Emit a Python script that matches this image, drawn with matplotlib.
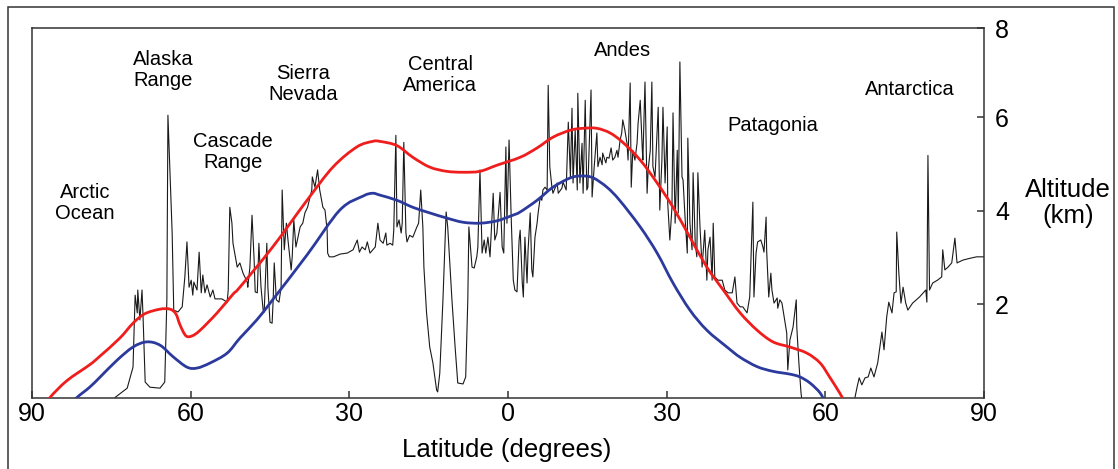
import numpy as np
import matplotlib
matplotlib.use("Agg")
import matplotlib.pyplot as plt
from matplotlib.patches import Rectangle, PathPatch
from matplotlib.path import Path

plt.rcParams["font.family"] = ["Liberation Sans", "DejaVu Sans"]

# ── Data ─────────────────────────────────────────────────────────────────────
# latitude runs north (negative, left) to south (positive, right); altitude in km
terrain_lat = [
    -74.3, -72.0, -70.9, -70.5, -70.1, -70.0, -69.6, -69.2, -69.0, -68.6, -67.7,
    -65.8, -64.9, -64.5, -64.3, -63.5, -63.2, -62.4, -61.6, -61.1, -60.7, -60.3,
    -59.9, -59.6, -59.4, -58.8, -58.4, -58.0, -57.7, -57.3, -56.9, -56.3, -55.8,
    -55.4, -54.1, -53.1, -52.9, -52.6, -52.2, -52.0, -51.2, -50.7, -50.1, -49.3,
    -49.2, -48.8, -48.4, -48.0, -47.8, -47.4, -47.1, -46.7, -46.3, -46.1, -45.6,
    -45.4, -45.0, -44.6, -44.4, -44.2, -43.8, -43.3, -42.9, -42.7, -42.3, -41.9,
    -41.6, -41.0, -40.8, -40.5, -40.1, -39.3, -38.8, -38.4, -37.9, -37.1, -37.0,
    -36.5, -36.0, -35.6, -35.0, -34.6, -34.2, -34.1, -33.8, -33.0, -31.7, -30.4,
    -29.3, -28.5, -28.1, -27.6, -27.0, -26.6, -26.1, -25.1, -24.6, -24.2, -23.6,
    -23.1, -22.9, -22.3, -21.8, -21.6, -21.2, -21.0, -20.6, -20.2, -20.0, -19.7,
    -19.3, -19.1, -18.6, -18.0, -17.3, -16.9, -16.5, -16.1, -15.9, -15.4, -14.8,
    -14.2, -13.5, -13.3, -12.9, -12.3, -11.7, -11.4, -10.6, -10.0, -9.5, -8.5,
    -8.0, -7.6, -7.4, -6.8, -6.4, -5.9, -5.7, -5.3, -4.9, -4.5, -4.2, -3.8,
    -3.4, -2.8, -2.5, -2.1, -1.5, -1.1, -0.8, -0.4, -0.2, 0.2, 0.6, 1.0, 1.3,
    1.7, 2.1, 2.3, 2.7, 2.9, 3.2, 3.6, 3.8, 4.2, 4.5, 4.7, 5.1, 5.5, 5.7, 6.1,
    6.4, 6.6, 7.0, 7.4, 7.6, 7.9, 8.3, 8.5, 9.3, 9.5, 10.2, 10.4, 11.0, 11.4,
    11.8, 12.1, 12.3, 12.7, 13.1, 13.2, 13.6, 14.0, 14.2, 14.6, 14.9, 15.1,
    15.7, 15.9, 16.3, 16.8, 17.0, 17.4, 17.8, 17.9, 18.5, 18.7, 19.1, 19.5,
    19.8, 20.2, 20.6, 20.8, 21.2, 21.5, 21.7, 22.1, 22.5, 22.7, 23.1, 23.3,
    23.6, 24.0, 24.4, 24.6, 25.0, 25.4, 25.5, 25.9, 26.3, 26.5, 26.9, 27.2,
    27.4, 27.8, 28.4, 28.7, 29.1, 29.3, 29.7, 30.1, 30.2, 30.6, 31.0, 31.2,
    31.6, 32.0, 32.2, 32.5, 32.9, 33.1, 33.5, 33.9, 34.0, 34.4, 34.8, 35.0,
    35.4, 35.7, 35.9, 36.3, 36.7, 37.2, 37.6, 37.8, 38.2, 38.6, 38.8, 39.1,
    39.7, 40.5, 41.0, 41.6, 42.4, 42.9, 43.3, 43.9, 44.4, 45.2, 45.7, 46.3,
    46.5, 46.9, 47.2, 47.8, 48.2, 48.4, 48.8, 48.9, 49.3, 49.7, 49.9, 50.3,
    50.9, 51.0, 51.4, 51.8, 52.3, 52.7, 52.9, 53.3, 53.9, 54.5, 54.6, 55.0,
    55.4, 55.8, np.nan,
    65.0, 65.6, 66.0, 66.4, 66.9, 67.5, 68.1, 68.6, 69.2, 69.9, 70.7, 71.1,
    71.6, 72.0, 72.6, 73.0, 73.4, 73.5, 73.9, 74.3, 74.7, 75.2, 75.6, 76.5,
    77.8, 79.0, 79.2, 79.4, 79.7, 80.3, 81.2, 82.0, 82.2, 82.6, 83.2, 83.9,
    84.5, 84.9, 86.0, 87.4, 88.6, 90.0,
]
terrain_alt = [
    0.00, 0.20, 0.65, 2.19, 1.81, 2.30, 1.66, 2.30, 1.72, 0.33, 0.22,
    0.20, 0.33, 2.09, 6.04, 3.52, 1.87, 1.83, 1.94, 2.58, 3.33, 2.36,
    2.51, 2.19, 2.47, 2.30, 3.11, 2.24, 2.62, 2.24, 2.41, 2.15, 2.30,
    2.11, 2.11, 2.04, 2.30, 4.07, 3.73, 3.30, 2.79, 2.88, 2.66, 2.47,
    2.36, 2.79, 3.90, 2.94, 2.26, 2.24, 3.30, 2.36, 1.87, 1.83, 3.30,
    2.36, 1.61, 1.59, 2.09, 2.88, 2.09, 2.04, 2.36, 4.44, 3.16, 3.73,
    3.37, 2.73, 3.01, 3.80, 3.22, 3.65, 3.73, 3.95, 4.07, 4.44, 4.72,
    4.50, 4.87, 4.44, 4.07, 4.01, 3.58, 3.09, 3.01, 3.01, 3.07, 3.09,
    3.16, 3.37, 3.11, 3.22, 3.16, 3.33, 3.09, 3.22, 3.73, 3.37, 3.30,
    3.52, 3.26, 3.30, 3.26, 3.58, 5.61, 3.65, 3.80, 3.52, 3.73, 5.46,
    3.52, 3.33, 3.47, 3.43, 3.63, 3.73, 4.44, 3.65, 2.79, 1.81, 1.08,
    0.74, 0.16, 0.12, 0.52, 2.09, 3.97, 3.65, 2.09, 1.08, 0.31, 0.29,
    0.44, 2.09, 3.65, 2.79, 2.77, 3.01, 3.22, 4.87, 3.09, 3.37, 3.09, 3.43,
    3.01, 4.37, 3.37, 3.52, 4.39, 3.22, 3.09, 5.36, 3.73, 5.51, 3.86, 2.51, 2.30,
    2.26, 3.37, 3.58, 2.45, 2.15, 3.43, 2.45, 3.16, 3.95, 2.73, 2.58, 3.43, 3.73, 3.95, 4.29,
    4.22, 4.44, 4.50, 4.44, 6.68, 4.94, 4.50, 4.37, 4.59, 4.37, 4.48, 4.61, 4.44, 5.89,
    4.72, 6.19, 4.59, 5.72, 4.44, 6.51, 4.59, 5.44, 4.37, 6.36, 4.44, 4.50,
    6.58, 4.29, 4.94, 5.66, 4.94, 5.14, 4.98, 5.23, 5.02, 5.14, 5.12, 5.34,
    5.08, 5.14, 5.29, 5.14, 5.51, 5.66, 5.94, 5.72, 5.44, 5.08, 6.73, 4.50,
    5.29, 5.08, 5.44, 5.87, 6.36, 5.29, 5.08, 6.75, 4.37, 4.87, 5.29, 6.75,
    4.94, 4.72, 6.21, 4.01, 5.08, 6.21, 4.59, 5.79, 4.16, 3.37, 4.07, 6.09,
    3.73, 5.29, 3.95, 7.18, 4.72, 4.65, 3.80, 3.09, 5.55, 3.73, 3.16, 4.81,
    3.30, 3.01, 4.81, 3.65, 2.79, 3.58, 2.51, 3.16, 3.43, 2.51, 3.73, 2.58,
    2.51, 2.51, 2.30, 2.24, 2.24, 2.58, 2.02, 1.94, 1.94, 1.81, 2.15, 4.18,
    2.15, 3.09, 3.33, 3.37, 3.22, 3.11, 3.86, 3.16, 2.15, 2.66, 2.30, 2.02,
    2.13, 1.91, 2.09, 2.02, 1.66, 1.38, 0.59, 1.23, 1.51, 2.09, 1.51, 0.74,
    0.10, -0.27, np.nan,
    -0.27, 0.00, 0.22, 0.42, 0.27, 0.42, 0.44, 0.63, 0.44, 0.74, 1.40, 1.02,
    1.72, 2.04, 1.81, 2.24, 2.26, 3.54, 2.66, 2.02, 2.36, 2.02, 1.87, 2.02,
    2.15, 2.30, 2.04, 5.18, 2.30, 2.45, 2.51, 2.58, 3.16, 2.73, 2.79, 2.88,
    3.41, 2.88, 2.94, 2.98, 3.01, 3.01,
]

red_lat = [-87.4, -86.6, -83.4, -79.1, -77.1, -73.4, -70.9, -68.7, -65.8, -63.9,
           -62.8, -62.0, -60.9, -59.7, -58.2, -55.0, -52.0, -50.7, -44.5, -38.0,
           -33.1, -28.6, -25.6, -24.2, -21.0, -18.0, -14.8, -11.6, -8.5, -5.3,
           -2.1, 2.3, 5.5, 8.5, 11.8, 14.2, 16.8, 19.3, 21.7, 25.0, 28.2, 31.2,
           34.4, 37.6, 40.7, 43.9, 47.1, 50.1, 53.3, 56.5, 59.0, 60.8, 62.7, 63.7]
red_alt = [-0.18, 0.00, 0.36, 0.70, 0.89, 1.27, 1.59, 1.79, 1.89, 1.89,
           1.79, 1.55, 1.32, 1.32, 1.44, 1.81, 2.21, 2.36, 3.22, 4.22,
           4.93, 5.36, 5.48, 5.48, 5.39, 5.14, 4.93, 4.84, 4.82, 4.84,
           4.97, 5.14, 5.34, 5.57, 5.72, 5.76, 5.76, 5.66, 5.46, 5.08, 4.59, 4.07,
           3.43, 2.79, 2.30, 1.81, 1.44, 1.19, 1.08, 0.95, 0.74, 0.44, 0.10, -0.10]

blue_lat = [-82.4, -81.5, -79.1, -77.1, -73.9, -70.9, -68.3, -65.8, -63.3, -60.7,
            -58.8, -56.3, -53.1, -50.7, -47.5, -44.5, -38.0, -31.8, -27.4, -25.6,
            -24.2, -21.0, -18.0, -14.8, -11.6, -8.5, -5.3, -2.1, 0.9, 2.3, 5.5,
            8.5, 11.8, 14.0, 16.1, 18.7, 21.1, 25.0, 28.2, 31.2, 34.4, 37.6, 41.4,
            43.9, 47.1, 50.1, 53.3, 55.2, 57.1, 59.0, 59.9]
blue_alt = [-0.14, 0.00, 0.22, 0.44, 0.80, 1.08, 1.19, 1.12, 0.87, 0.65,
            0.63, 0.74, 0.95, 1.27, 1.66, 2.09, 3.05, 4.01, 4.31, 4.37,
            4.33, 4.22, 4.07, 3.95, 3.84, 3.75, 3.73, 3.78, 3.90, 3.97, 4.22,
            4.50, 4.70, 4.74, 4.70, 4.50, 4.22, 3.65, 3.09, 2.45, 1.87, 1.44, 1.08,
            0.86, 0.66, 0.56, 0.50, 0.44, 0.31, 0.10, -0.10]

region_names = ["Arctic\nOcean", "Alaska\nRange", "Cascade\nRange", "Sierra\nNevada",
                "Central\nAmerica", "Andes", "Patagonia", "Antarctica"]
region_lat = [-80.0, -65.2, -52.0, -38.8, -12.8, 21.7, 50.1, 76.0]
region_alt = [4.16, 7.00, 5.25, 6.71, 6.90, 7.43, 5.83, 6.58]

x_tick_vals = [-90, -60, -30, 0, 30, 60, 90]
x_tick_labels = ["90", "60", "30", "0", "30", "60", "90"]
y_tick_vals = [2, 4, 6, 8]
y_top = 7.9


def smooth_path(xs, ys):
    """Catmull-Rom curve through the read points, as cubic Bezier segments."""
    p = np.column_stack([xs, ys]).astype(float)
    verts = [p[0]]
    codes = [Path.MOVETO]
    for i in range(len(p) - 1):
        p0 = p[i - 1] if i > 0 else p[i]
        p1, p2 = p[i], p[i + 1]
        p3 = p[i + 2] if i + 2 < len(p) else p[i + 1]
        verts += [p1 + (p2 - p0) / 6, p2 - (p3 - p1) / 6, p2]
        codes += [Path.CURVE4] * 3
    return Path(verts, codes)


# ── Plot ─────────────────────────────────────────────────────────────────────
fig = plt.figure(figsize=(11.18, 4.69), dpi=100)
fig.patch.set_facecolor("white")

# outer frame around the whole figure
fig.add_artist(Rectangle((8 / 1118, -0.05), 1106 / 1118, 1.05 - 7 / 469,
                         transform=fig.transFigure, fill=False,
                         edgecolor="#333333", linewidth=1.1))

ax = fig.add_axes([32 / 1118, 1 - 397.5 / 469, 952 / 1118, 369.2 / 469])

ax.plot(terrain_lat, terrain_alt, color="#1a1a1a", linewidth=0.8, zorder=2)
for xs, ys, col in [(red_lat, red_alt, "#f01d1d"), (blue_lat, blue_alt, "#2b3a9c")]:
    ax.add_patch(PathPatch(smooth_path(xs, ys), fill=False, edgecolor=col,
                           linewidth=2.0, capstyle="round", joinstyle="round",
                           zorder=3))

for name, lat, alt in zip(region_names, region_lat, region_alt):
    ax.text(lat, alt, name, ha="center", va="center", multialignment="center",
            fontsize=14.5, color="black", linespacing=1.15)

ax.set_xlim(-90, 90)
ax.set_ylim(0, y_top)
ax.set_xticks(x_tick_vals)
ax.set_xticklabels(x_tick_labels)
ax.set_yticks([min(v, y_top) for v in y_tick_vals])
ax.set_yticklabels([str(v) for v in y_tick_vals])

ax.yaxis.tick_right()
ax.tick_params(axis="both", direction="in", length=5, width=1.1,
               color="#333333", labelsize=18, labelcolor="black")
ax.tick_params(axis="x", pad=3)
ax.tick_params(axis="y", pad=8)
for sp in ax.spines.values():
    sp.set_color("#333333")
    sp.set_linewidth(1.1)

fig.text(507 / 1118, 1 - 450 / 469, "Latitude (degrees)", ha="center", va="center",
         fontsize=18.5)
fig.text(1068 / 1118, 1 - 203 / 469, "Altitude\n(km)", ha="center", va="center",
         multialignment="center", fontsize=18.5, linespacing=1.1)

fig.savefig("out.png", dpi=100)
